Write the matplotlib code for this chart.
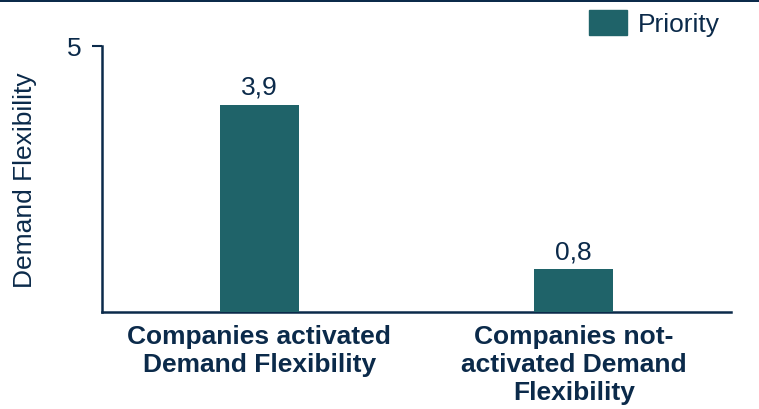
import matplotlib.pyplot as plt
from matplotlib.patches import Patch, Rectangle

plt.rcParams['font.family'] = ['Liberation Sans', 'DejaVu Sans']

# --- Chart data ---
categories = ['Companies activated\nDemand Flexibility',
              'Companies not-\nactivated Demand\nFlexibility']
priority = [3.9, 0.8]
series_name = 'Priority'
y_ticks = [5]

navy = '#0b2a4a'
teal = '#1f6369'
fs = 19

fig = plt.figure(figsize=(7.59, 4.10), dpi=100)
ax = fig.add_axes([0.1344, 0.2366, 0.8286, 0.6488])

# Dark rule along the top edge of the figure
fig.add_artist(Rectangle((0, 0.992), 1, 0.008, transform=fig.transFigure,
                         color=navy, lw=0))

x = range(len(categories))
bars = ax.bar(x, priority, width=0.25, color=teal, zorder=3)

for bar, val in zip(bars, priority):
    ax.text(bar.get_x() + bar.get_width() / 2, val + 0.12,
            f'{val:.1f}'.replace('.', ','), ha='center', va='bottom',
            fontsize=fs, color=navy)

ax.set_xlim(-0.5, 1.5)
ax.set_ylim(0, 5)
ax.set_yticks(y_ticks)
ax.set_yticklabels([str(t) for t in y_ticks], fontsize=fs, color=navy)
ax.set_xticks(list(x))
ax.set_xticklabels(categories, fontsize=fs, fontweight='bold', color=navy,
                   linespacing=1.2)
ax.tick_params(axis='x', length=0, pad=9)
ax.tick_params(axis='y', length=7, width=1.5, color=navy, pad=8)

for side in ['top', 'right']:
    ax.spines[side].set_visible(False)
for side in ['left', 'bottom']:
    ax.spines[side].set_color(navy)
    ax.spines[side].set_linewidth(1.8)

ax.set_ylabel('Demand Flexibility', fontsize=fs, color=navy)
ax.yaxis.set_label_coords(-0.104, 0.5)

ax.legend(handles=[Patch(color=teal, label=series_name)],
          loc='upper right', bbox_to_anchor=(0.966, 1.005),
          bbox_transform=fig.transFigure, frameon=False, fontsize=fs,
          handlelength=1.44, handleheight=1.06, handletextpad=0.42,
          labelcolor=navy, borderpad=0)

plt.savefig('out.png', dpi=100)
